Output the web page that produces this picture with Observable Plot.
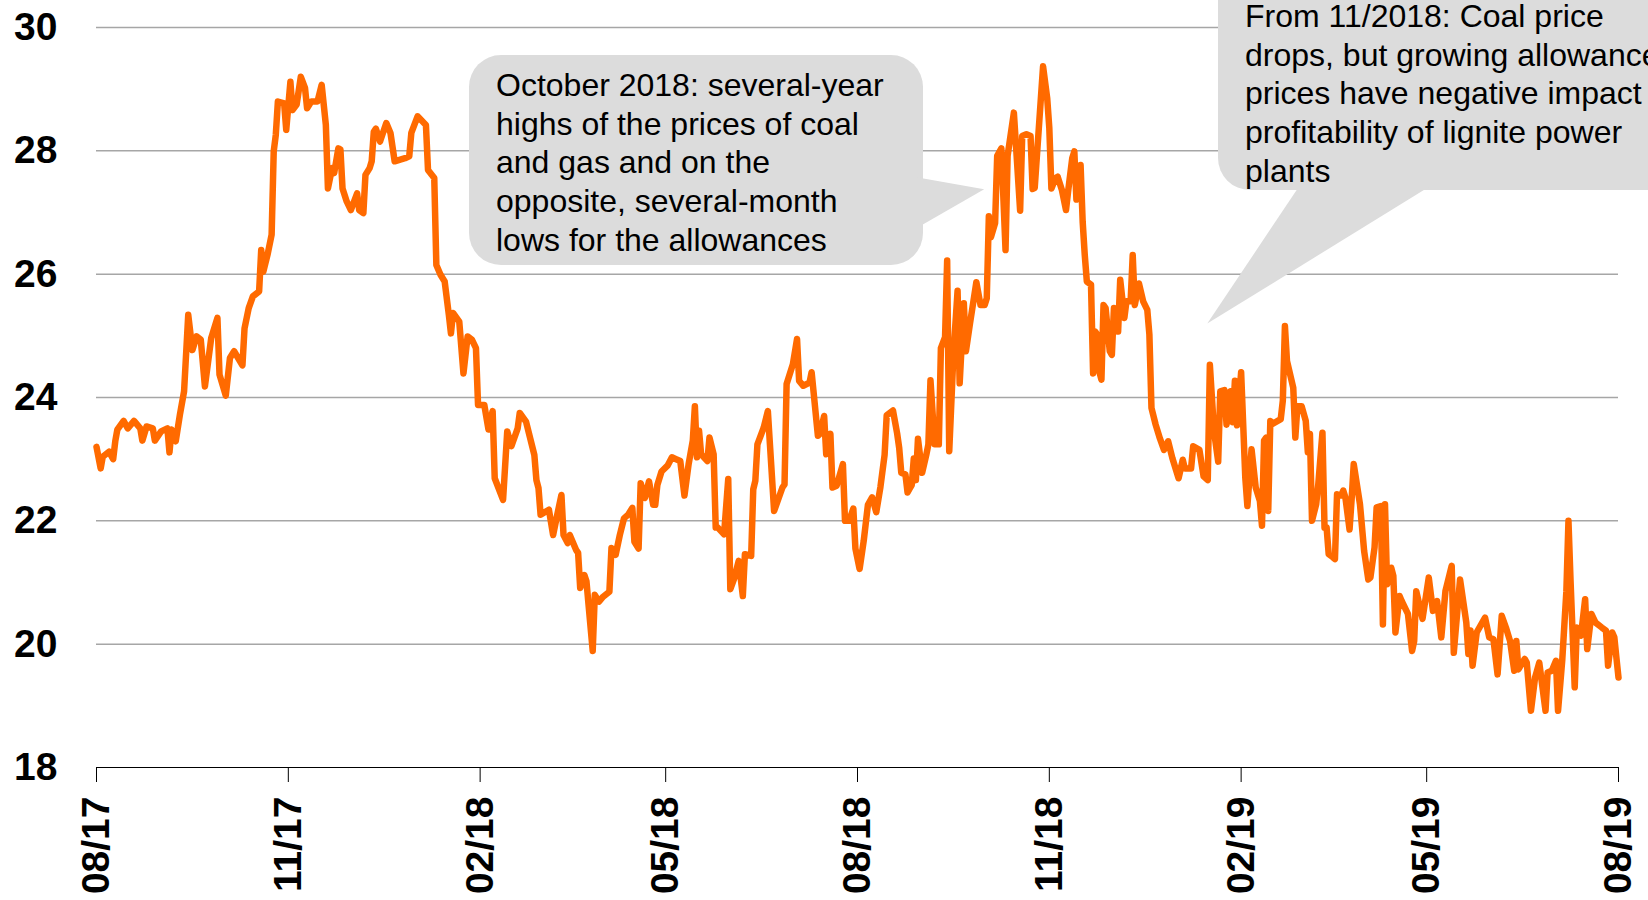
<!DOCTYPE html>
<html><head><meta charset="utf-8">
<script src="https://cdn.jsdelivr.net/npm/d3@7"></script>
<script src="https://cdn.jsdelivr.net/npm/@observablehq/plot@0.6"></script>
<style>
html,body{margin:0;padding:0;background:#fff;overflow:hidden;width:1648px;height:900px}
#chart svg{display:block;overflow:hidden}
</style></head><body><div id="chart"></div>
<script>
// ---- data ----
const startDate = "2017-08-01";
const dayOffsets = [0,2,3,6,8,9,10,13,15,18,21,22,24,27,28,31,34,35,36,38,40,42,44,46,48,50,52,55,56,58,59,62,64,66,70,71,73,75,78,79,80,82,84,85,86,87,90,91,93,
94,96,98,100,101,103,106,108,110,111,113,114,116,117,118,120,122,125,126,128,129,131,132,133,134,136,139,141,143,148,150,151,154,158,159,162,163,165,167,169,170,171,174,176,178,180,182,
183,186,188,190,191,195,197,199,202,203,206,210,211,212,213,217,219,221,223,224,226,227,230,231,232,234,235,236,238,239,241,243,246,247,249,251,253,255,257,258,260,261,263,265,267,268,269,271,
274,276,278,280,282,284,286,287,288,289,290,293,294,296,297,298,301,303,304,306,308,310,311,314,315,316,317,320,322,323,325,327,329,330,331,334,336,337,339,342,343,346,347,349,350,351,352,353,355,358,359,361,
363,364,366,368,370,372,374,376,378,379,382,384,385,386,388,389,390,391,392,393,394,396,398,399,400,402,404,405,407,408,409,411,413,414,416,417,419,422,424,426,427,428,429,431,432,434,436,437,440,443,444,446,448,449,450,
454,456,457,458,460,461,463,465,466,468,469,470,472,473,474,475,477,478,479,480,481,482,483,484,486,487,488,489,490,491,493,494,496,497,498,500,502,504,505,506,508,510,512,514,516,519,521,522,525,526,529,531,533,534,536,538,539,541,542,544,545,546,547,
549,551,552,554,556,558,559,560,561,562,563,564,568,569,570,571,574,575,576,578,580,581,582,583,585,586,588,589,590,591,593,594,595,597,598,599,601,602,603,606,608,610,611,613,614,616,617,618,619,621,622,623,625,626,629,631,632,633,636,
639,641,643,645,647,650,651,654,657,658,659,660,662,666,668,670,672,674,676,678,680,681,682,685,686,688,690,692,695,696,698,700,701,703,705,706,707,709,710,712,714,715,717,719,722,724,725,727,728,729,730];
const prices = [23.2,22.85,23.04,23.12,23.0,23.29,23.48,23.62,23.5,23.62,23.5,23.3,23.53,23.5,23.3,23.45,23.5,23.11,23.48,23.29,23.72,24.1,25.34,24.77,24.99,24.94,24.18,24.96,25.07,25.29,24.37,24.03,24.64,24.75,24.52,25.12,25.45,25.64,25.72,26.39,26.04,26.31,26.64,27.99,28.26,28.8,28.77,28.34,29.12,
28.66,28.75,29.2,29.02,28.69,28.8,28.8,29.07,28.42,27.39,27.72,27.64,28.04,28.02,27.39,27.18,27.04,27.31,27.04,26.99,27.61,27.72,27.83,28.31,28.36,28.15,28.45,28.29,27.83,27.88,27.91,28.29,28.56,28.42,27.69,27.56,26.15,25.99,25.88,25.34,25.04,25.37,25.23,24.39,24.99,24.94,24.8,
23.88,23.88,23.48,23.78,22.69,22.34,23.45,23.21,23.5,23.75,23.61,23.07,22.66,22.53,22.1,22.18,21.77,22.1,22.42,21.77,21.64,21.77,21.53,21.48,20.91,21.12,21.02,20.64,19.89,20.8,20.69,20.77,20.85,21.56,21.45,21.77,22.04,22.1,22.21,21.66,21.55,22.61,22.37,22.64,22.26,22.26,22.58,22.8,
22.9,23.03,23.0,22.97,22.41,22.92,23.3,23.86,23.03,23.46,23.08,22.97,23.35,23.08,21.89,21.89,21.78,22.68,20.89,21.08,21.35,20.78,21.46,21.43,22.51,22.65,23.24,23.51,23.78,23.24,22.16,22.35,22.54,22.59,24.22,24.54,24.95,24.27,24.19,24.24,24.41,23.38,23.41,23.7,23.08,23.3,23.41,22.54,22.57,22.92,22.0,22.0,
22.2,21.55,21.22,21.68,22.26,22.38,22.14,22.55,23.07,23.71,23.79,23.42,23.18,22.78,22.75,22.46,22.52,22.58,23.01,22.66,23.33,22.78,23.07,23.24,24.28,23.24,23.24,24.8,24.98,26.22,23.13,24.69,25.73,24.23,25.53,24.75,25.21,25.87,25.5,25.5,25.61,26.94,26.6,26.83,27.92,28.04,26.39,27.92,28.62,27.03,28.24,28.27,28.24,27.38,27.4,
29.37,28.85,28.37,27.39,27.56,27.58,27.37,27.04,27.34,27.88,27.99,27.21,27.77,26.85,26.31,25.88,25.83,24.39,25.07,25.02,24.42,24.29,25.5,25.45,24.75,24.69,25.45,25.34,25.07,25.91,25.29,25.56,25.56,26.31,25.5,25.85,25.56,25.42,25.02,23.83,23.56,23.34,23.15,23.29,23.02,22.69,22.99,22.85,22.85,23.21,23.15,22.72,22.66,24.53,23.45,22.96,24.1,24.12,23.56,24.1,23.6,24.27,23.55,
24.41,22.7,22.24,23.16,22.54,22.32,21.92,23.3,23.35,22.16,23.62,23.57,23.65,23.95,25.16,24.59,24.16,23.35,23.86,23.86,23.62,23.11,23.41,22.0,22.27,22.59,23.43,21.89,21.89,21.46,21.41,21.38,22.43,22.41,22.49,22.38,21.86,22.35,22.92,22.27,21.51,21.05,21.08,21.57,22.22,22.24,20.32,22.27,20.97,21.24,21.11,20.19,20.78,20.7,20.49,19.89,20.05,20.86,20.41,
21.08,20.54,20.7,20.11,20.86,21.27,19.86,21.05,20.35,19.84,20.22,19.65,20.19,20.43,20.11,20.08,19.51,20.46,20.27,20.05,19.57,20.05,19.59,19.76,19.7,18.92,19.46,19.7,18.92,19.54,19.57,19.73,18.92,19.73,20.86,22.0,21.03,19.3,20.27,20.14,20.73,19.92,20.49,20.35,20.27,20.22,19.65,20.19,20.11,19.78,19.46];

const yTicks = [18, 20, 22, 24, 26, 28, 30];
const gridTicks = [20, 22, 24, 26, 28, 30];
const xTickDates = ["2017-08-01","2017-11-01","2018-02-01","2018-05-01","2018-08-01","2018-11-01","2019-02-01","2019-05-01","2019-08-01"];
const xTickLabels = ["08/17","11/17","02/18","05/18","08/18","11/18","02/19","05/19","08/19"];

const callout1Lines = ["October 2018: several-year", "highs of the prices of coal", "and gas and on the", "opposite, several-month", "lows for the allowances"];
const callout1Target = {date: "2018-10-01", value: 27.37};
const callout2Lines = ["From 11/2018: Coal price", "drops, but growing allowance", "prices have negative impact on", "profitability of lignite power", "plants"];
const callout2Target = {date: "2019-01-16", value: 25.19};

// ---- build ----
const FONT = "'Liberation Sans', Arial, Helvetica, sans-serif";
const utc = s => new Date(s + "T00:00:00Z");
const start = utc(startDate);
const data = dayOffsets.map((d, i) => ({date: d3.utcDay.offset(start, d), value: prices[i]}));
const tickDates = xTickDates.map(utc);
const labelOf = new Map(tickDates.map((d, i) => [+d, xTickLabels[i]]));

const plot = Plot.plot({
  width: 1648, height: 900,
  marginLeft: 96, marginRight: 30, marginTop: 27, marginBottom: 133,
  style: {fontFamily: FONT, background: "#fff", color: "#000"},
  x: {type: "utc", domain: [tickDates[0], tickDates[tickDates.length - 1]], label: null},
  y: {domain: [18, 30], label: null},
  marks: [
    Plot.gridY(gridTicks, {stroke: "#a6a6a6", strokeOpacity: 1, strokeWidth: 1.5}),
    Plot.ruleY([18], {stroke: "#000", strokeWidth: 1}),
    Plot.axisY(yTicks, {tickSize: 0, tickPadding: 39, fontSize: 39, fontWeight: "bold", label: null, tickFormat: d => String(d)}),
    Plot.axisX(tickDates, {tickSize: 15, tickPadding: 14, tickRotate: -90, fontSize: 39, fontWeight: "bold", label: null,
      tickFormat: d => labelOf.get(+d), stroke: "#000"}),
    Plot.lineY(data, {x: "date", y: "value", stroke: "#ff6a00", strokeWidth: 6.5, strokeLinejoin: "round", strokeLinecap: "round"})
  ]
});
document.getElementById("chart").appendChild(plot);

// ---- callouts ----
const xs = plot.scale("x"), ys = plot.scale("y");
const svg = d3.select(plot);
const g = svg.append("g").attr("font-family", FONT).attr("font-weight", "normal").attr("font-size", 32)
  .attr("text-anchor", "start").attr("fill", "#000");
const FILL = "#dcdcdc";

function callout({box, tail, tip, lines, textX, baseline0, lineGap}) {
  const c = g.append("g");
  c.append("rect").attr("x", box.x).attr("y", box.y).attr("width", box.w).attr("height", box.h)
    .attr("rx", 32).attr("ry", 32).attr("fill", FILL);
  c.append("path").attr("d", `M${tail[0][0]},${tail[0][1]}L${tip[0]},${tip[1]}L${tail[1][0]},${tail[1][1]}Z`).attr("fill", FILL);
  const t = c.append("text").attr("fill", "#000").attr("text-anchor", "start");
  lines.forEach((s, i) => t.append("tspan").attr("x", textX).attr("y", baseline0 + i * lineGap).text(s));
}

const tip1 = [xs.apply(utc(callout1Target.date)), ys.apply(callout1Target.value)];
callout({box: {x: 469, y: 55, w: 454, h: 210}, tail: [[915, 177], [915, 229]], tip: tip1,
  lines: callout1Lines, textX: 496, baseline0: 96, lineGap: 38.7});

const tip2 = [xs.apply(utc(callout2Target.date)), ys.apply(callout2Target.value)];
callout({box: {x: 1218, y: -40, w: 560, h: 230}, tail: [[1300, 185], [1432, 185]], tip: tip2,
  lines: callout2Lines, textX: 1245, baseline0: 27, lineGap: 38.7});
</script></body></html>
